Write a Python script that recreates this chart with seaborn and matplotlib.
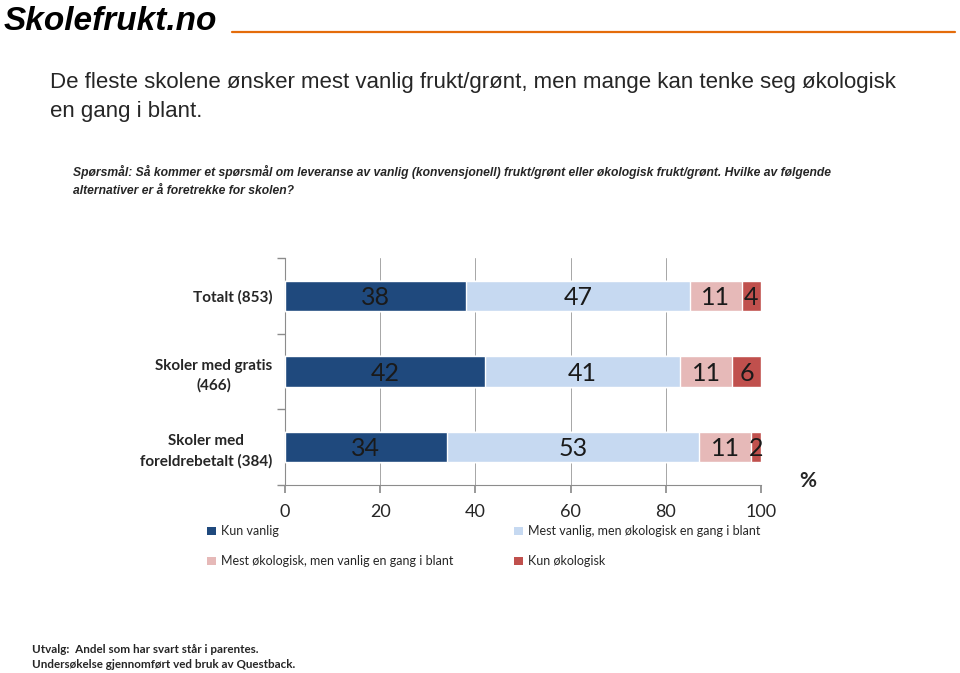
import matplotlib
matplotlib.use("Agg")
import matplotlib.pyplot as plt
import numpy as np
import pandas as pd
import seaborn as sns
from matplotlib.patches import Patch
from matplotlib.lines import Line2D

sns.set_theme(style="white")
plt.rcParams["font.family"] = ["Lato", "DejaVu Sans"]

grupper = ["Totalt (853)", "Skoler med gratis\n(466)", "Skoler med\nforeldrebetalt (384)"]
serier = ["Kun vanlig",
          "Mest vanlig, men økologisk en gang i blant",
          "Mest økologisk, men vanlig en gang i blant",
          "Kun økologisk"]
kun_vanlig = [38, 42, 34]
mest_vanlig = [47, 41, 53]
mest_oko = [11, 11, 11]
kun_oko = [4, 6, 2]
farger = ["#1F497D", "#C6D9F1", "#E6B9B8", "#C0504D"]

verdier = np.array([kun_vanlig, mest_vanlig, mest_oko, kun_oko])
kumulativ = verdier.cumsum(axis=0)

fig = plt.figure(figsize=(9.6, 6.73), dpi=100)
ax = fig.add_axes([285 / 960, 1 - 485 / 673, 476 / 960, 227 / 673])

# stablet: tegn bakerste (sum) først
for i in range(3, -1, -1):
    df = pd.DataFrame({"gruppe": grupper, "verdi": kumulativ[i]})
    sns.barplot(data=df, x="verdi", y="gruppe", orient="h", color=farger[i],
                width=0.4, saturation=1, ax=ax, zorder=3)

for i in range(4):
    for j in range(3):
        v = verdier[i][j]
        midt = kumulativ[i][j] - v / 2
        ax.text(midt, j + 0.02, str(v), ha="center", va="center", fontsize=18,
                color="#1a1a1a", zorder=4)

ax.set_xlim(0, 100)
ax.set_ylim(2.5, -0.5)
ax.set_xticks([0, 20, 40, 60, 80, 100])
ax.set_xticklabels(["0", "20", "40", "60", "80", "100"], fontsize=13)
ax.set_yticks([0, 1, 2])
ax.set_yticklabels(grupper, fontsize=11, fontweight="bold", multialignment="center",
                   linespacing=1.5)
ax.set_yticks([-0.5, 0.5, 1.5, 2.5], minor=True)
ax.tick_params(axis="y", which="major", length=0, pad=9)
ax.tick_params(axis="y", which="minor", length=6, color="#8c8c8c", direction="out", left=True)
ax.tick_params(axis="x", length=6, color="#8c8c8c", direction="out", bottom=True, pad=8)
ax.set_xlabel("")
ax.set_ylabel("")
ax.grid(axis="x", color="#a6a6a6", linewidth=0.7, zorder=0)
ax.grid(axis="y", visible=False)
for s in ["top", "right"]:
    ax.spines[s].set_visible(False)
for s in ["left", "bottom"]:
    ax.spines[s].set_color("#8c8c8c")
    ax.spines[s].set_linewidth(0.8)

# logo og overskrift
fig.text(4 / 960, 1 - 22 / 673, "Skolefrukt.no", fontsize=24, fontweight="bold",
         color="black", va="center", ha="left", style="italic",
         family=["Liberation Sans", "DejaVu Sans"])
fig.add_artist(Line2D([232 / 960, 955 / 960], [1 - 32 / 673] * 2, color="#E46C0A", linewidth=1.6))
fig.text(50 / 960, 1 - 97 / 673,
         "De fleste skolene ønsker mest vanlig frukt/grønt, men mange kan tenke seg økologisk\nen gang i blant.",
         fontsize=16, va="center", ha="left", linespacing=1.55,
         family=["Liberation Sans", "DejaVu Sans"])
fig.text(73 / 960, 1 - 181 / 673,
         "Spørsmål: Så kommer et spørsmål om leveranse av vanlig (konvensjonell) frukt/grønt eller økologisk frukt/grønt. Hvilke av følgende\nalternativer er å foretrekke for skolen?",
         fontsize=8.7, fontweight="bold", style="italic", va="center", ha="left", linespacing=1.6,
         family=["Liberation Sans", "DejaVu Sans"])
fig.text(808 / 960, 1 - 481 / 673, "%", fontsize=15, fontweight="bold", ha="center", va="center")

handles = [Patch(facecolor=farger[k], edgecolor="none") for k in [0, 2, 1, 3]]
labels = [serier[k] for k in [0, 2, 1, 3]]
fig.legend(handles, labels, loc="upper left", bbox_to_anchor=(196 / 960, 1 - 514 / 673),
           ncol=2, frameon=False, fontsize=9, handlelength=0.7, handleheight=0.7,
           handletextpad=0.4, labelspacing=1.45, columnspacing=4.85)

fig.text(32 / 960, 1 - 657 / 673,
         "Utvalg:  Andel som har svart står i parentes.\nUndersøkelse gjennomført ved bruk av Questback.",
         fontsize=8.4, fontweight="bold", va="center", ha="left", linespacing=1.35)

fig.savefig("out.png", dpi=100)
